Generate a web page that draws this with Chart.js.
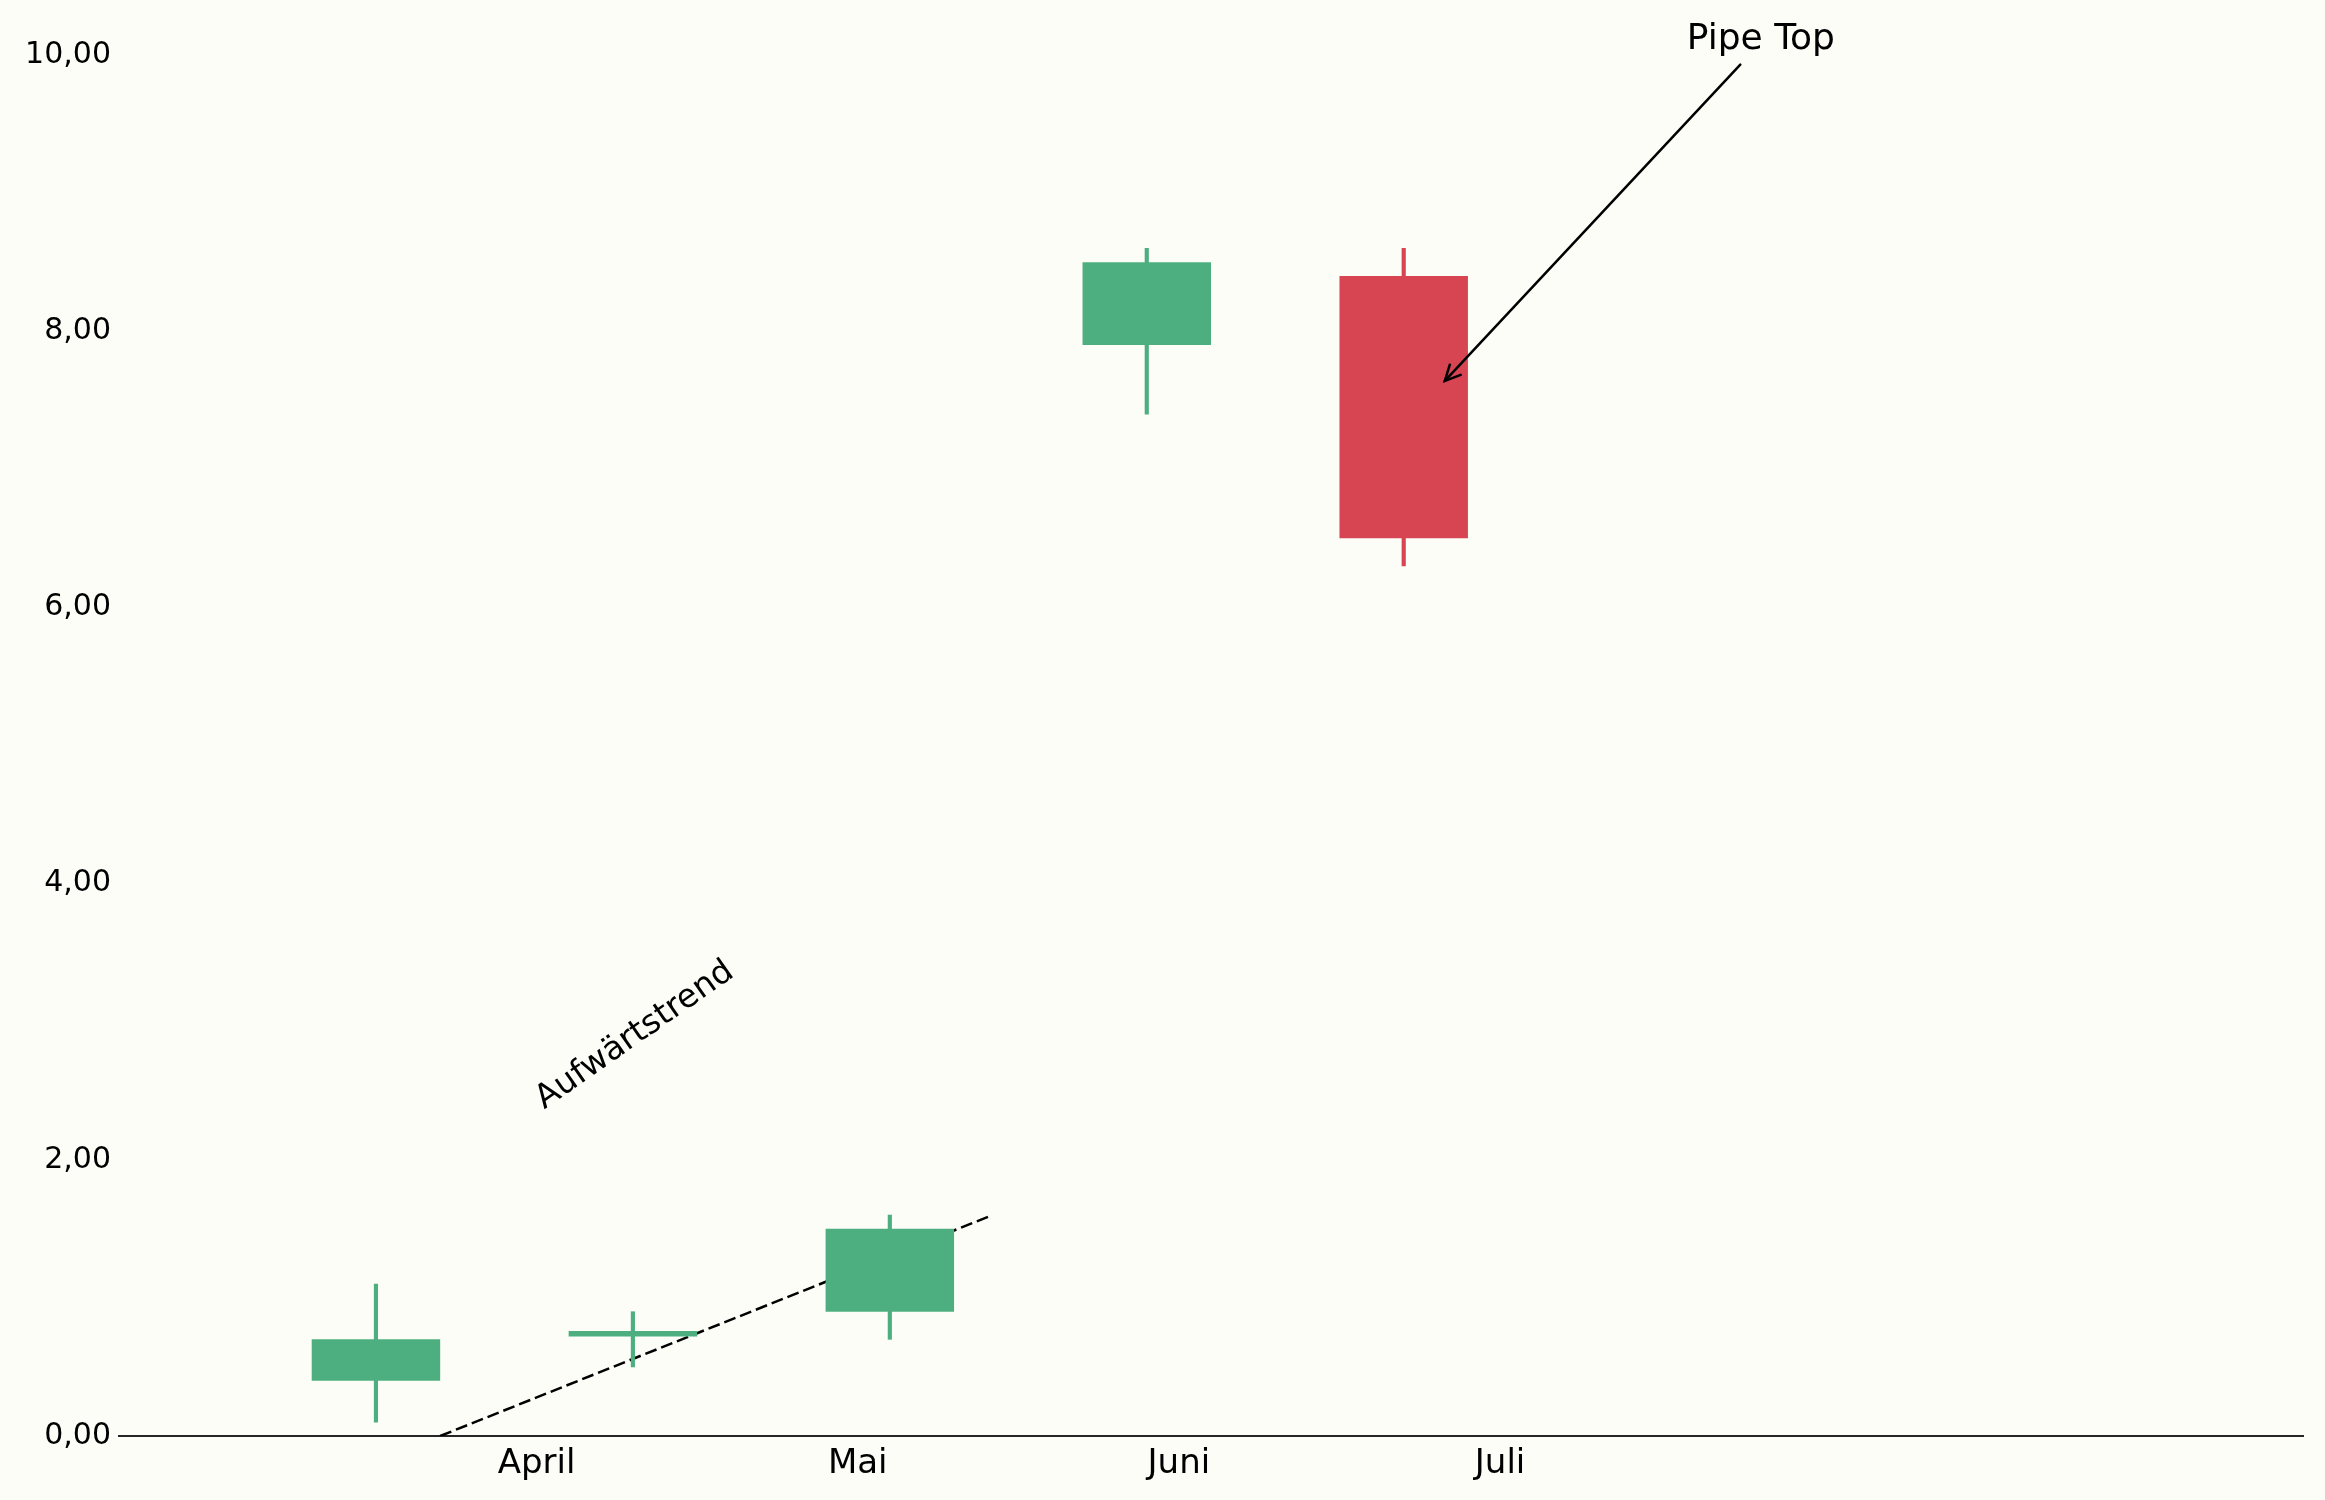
<!DOCTYPE html>
<html><head><meta charset="utf-8">
<script src="https://cdn.jsdelivr.net/npm/chart.js@4.4.0/dist/chart.umd.min.js"></script>
<style>html,body{margin:0;padding:0;background:#fdfdf8;} #wrap{width:2325px;height:1500px;}</style>
</head><body><div id="wrap"><canvas id="c" width="2325" height="1500"></canvas></div>
<script>
// ---- data ----
const positions = [0, 1, 2, 3, 4];
const opens  = [0.40, 0.72, 0.90, 7.90, 8.40];
const closes = [0.70, 0.76, 1.50, 8.50, 6.50];
const highs  = [1.10, 0.90, 1.60, 8.60, 8.60];
const lows   = [0.10, 0.50, 0.70, 7.40, 6.30];
const monthTickPositions = [0.625, 1.875, 3.125, 4.375];
const monthTickLabels = ['April', 'Mai', 'Juni', 'Juli'];
const trendX = [0.25, 2.4];
const trendY = [0, 1.6];
const trendLabel = 'Aufwärtstrend';
const trendLabelPos = [1.008, 2.90];
const annoText = 'Pipe Top';
const annoTextPos = [5.39, 10.04];
const annoArrowFrom = [5.31, 9.93];
const annoArrowTo = [4.16, 7.64];

const UP = '#4daf7f', DOWN = '#d74552', BG = '#fdfdf8';
const candleColors = opens.map((o, i) => closes[i] >= o ? UP : DOWN);

const bgPlugin = {
  id: 'bg',
  beforeDraw(chart) {
    const ctx = chart.ctx;
    ctx.save(); ctx.fillStyle = BG; ctx.fillRect(0, 0, chart.width, chart.height); ctx.restore();
  }
};

const annoPlugin = {
  id: 'anno',
  afterDatasetsDraw(chart) {
    const ctx = chart.ctx, xs = chart.scales.x, ys = chart.scales.y;
    ctx.save();
    ctx.fillStyle = '#000';
    ctx.font = '33px "DejaVu Sans"';
    ctx.textAlign = 'center'; ctx.textBaseline = 'middle';
    ctx.translate(xs.getPixelForValue(trendLabelPos[0]), ys.getPixelForValue(trendLabelPos[1]));
    ctx.rotate(-35 * Math.PI / 180);
    ctx.fillText(trendLabel, 0, 0);
    ctx.restore();

    ctx.save();
    ctx.fillStyle = '#000';
    ctx.font = '36px "DejaVu Sans"';
    ctx.textAlign = 'center'; ctx.textBaseline = 'alphabetic';
    ctx.fillText(annoText, xs.getPixelForValue(annoTextPos[0]), ys.getPixelForValue(annoTextPos[1]));
    const x1 = xs.getPixelForValue(annoArrowFrom[0]), y1 = ys.getPixelForValue(annoArrowFrom[1]);
    const x2 = xs.getPixelForValue(annoArrowTo[0]), y2 = ys.getPixelForValue(annoArrowTo[1]);
    ctx.strokeStyle = '#000'; ctx.lineWidth = 2.5; ctx.lineCap = 'round';
    ctx.beginPath(); ctx.moveTo(x1, y1); ctx.lineTo(x2, y2); ctx.stroke();
    const ang = Math.atan2(y2 - y1, x2 - x1), hl = 17, ha = 26 * Math.PI / 180;
    ctx.beginPath();
    ctx.moveTo(x2 - hl * Math.cos(ang - ha), y2 - hl * Math.sin(ang - ha));
    ctx.lineTo(x2, y2);
    ctx.lineTo(x2 - hl * Math.cos(ang + ha), y2 - hl * Math.sin(ang + ha));
    ctx.stroke();
    ctx.restore();
  }
};

new Chart(document.getElementById('c'), {
  data: {
    datasets: [
      {
        type: 'line',
        label: 'trend',
        data: trendX.map((x, i) => ({ x: x, y: trendY[i] })),
        borderColor: '#000', borderWidth: 2.5, borderDash: [12, 5],
        pointRadius: 0, fill: false, order: 5
      },
      {
        type: 'bar',
        label: 'body',
        data: positions.map((x, i) => ({ x: x, y: [opens[i], closes[i]] })),
        backgroundColor: candleColors, borderWidth: 0,
        grouped: false, barPercentage: 0.5, categoryPercentage: 1.0, order: 1
      },
      {
        type: 'bar',
        label: 'wick',
        data: positions.map((x, i) => ({ x: x, y: [lows[i], highs[i]] })),
        backgroundColor: candleColors, borderWidth: 0,
        grouped: false, barThickness: 3.5, order: 2
      }
    ]
  },
  options: {
    responsive: false, devicePixelRatio: 1, animation: false,
    layout: { padding: { top: 55, right: 22, left: 0, bottom: 0 } },
    plugins: { legend: { display: false }, tooltip: { enabled: false } },
    scales: {
      x: {
        type: 'linear', min: -1, max: 7.5, offset: false,
        grid: { display: false, drawTicks: false },
        border: { display: true, color: '#262626', width: 2 },
        afterBuildTicks: (s) => { s.ticks = monthTickPositions.map(v => ({ value: v })); },
        afterFit: (s) => { s.height = 64; },
        ticks: {
          autoSkip: false, maxRotation: 0, padding: 8, color: '#000',
          font: { family: 'DejaVu Sans', size: 34 },
          callback: (v, i) => monthTickLabels[i]
        }
      },
      y: {
        type: 'linear', min: 0, max: 10,
        grid: { display: false, drawTicks: false },
        border: { display: false },
        afterFit: (s) => { s.width = 119; },
        ticks: {
          stepSize: 2, padding: 8, color: '#000',
          font: { family: 'DejaVu Sans', size: 30 },
          callback: (v) => v.toFixed(2).replace('.', ',')
        }
      }
    }
  },
  plugins: [bgPlugin, annoPlugin]
});
</script></body></html>
